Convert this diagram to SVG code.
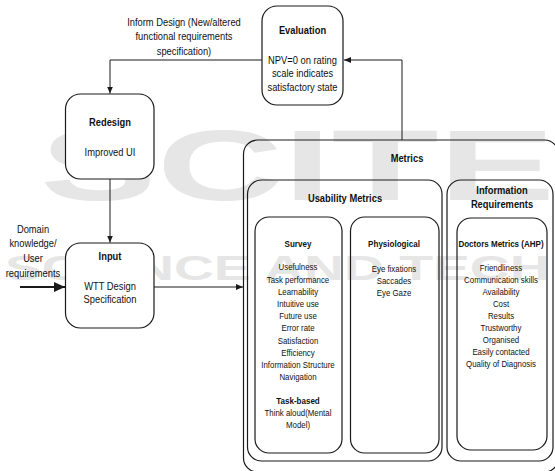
<svg xmlns="http://www.w3.org/2000/svg" width="555" height="471" viewBox="0 0 555 471">
<defs>
<style>
.box{fill:none;stroke:#1a1a1a;stroke-width:1.2}
.nbox{fill:#fff;stroke:#1a1a1a;stroke-width:1.2}
.ln{fill:none;stroke:#1a1a1a;stroke-width:1}
.t{font-family:"Liberation Sans",Arial,sans-serif;font-size:11.4px;text-anchor:middle;fill:#111}
.b{font-weight:bold}
.s{font-size:9.6px}
.sb{font-size:9.8px;font-weight:bold}
.wm{font-family:"Liberation Sans",Arial,sans-serif;font-weight:bold;fill:#e6e6e6}
</style>
<marker id="ah" markerWidth="8" markerHeight="6" refX="7" refY="3" orient="auto" markerUnits="userSpaceOnUse">
<path d="M0,0 L7,3 L0,6 Z" fill="#1a1a1a"/>
</marker>
<marker id="ahb" markerWidth="12" markerHeight="10" refX="11" refY="5" orient="auto" markerUnits="userSpaceOnUse">
<path d="M0,0 L11,5 L0,10 Z" fill="#1a1a1a"/>
</marker>
</defs>
<rect width="555" height="471" fill="#fff"/>
<g id="watermark">
<text class="wm" x="22.86" y="200" font-size="100" transform="scale(1.75,1)">SCITE</text>
<text class="wm" x="3.15" y="280" font-size="35" transform="scale(1.58,1)">SCIENCE AND TECH</text>
</g>
<g id="connectors">
<polyline class="ln" points="402,140 402,60 344,60" marker-end="url(#ah)"/>
<polyline class="ln" points="262,60 110,60 110,93.5" marker-end="url(#ah)"/>
<line class="ln" x1="110" y1="179" x2="110" y2="242.5" marker-end="url(#ah)"/>
<line class="ln" x1="154" y1="287" x2="243" y2="287" marker-end="url(#ah)"/>
<line x1="20" y1="287" x2="65" y2="287" stroke="#1a1a1a" stroke-width="2" marker-end="url(#ahb)"/>
<g class="t" transform="scale(0.82,1)">
<text x="224.39" y="26">Inform Design (New/altered</text>
<text x="224.39" y="40.5">functional requirements</text>
<text x="224.39" y="55">specification)</text>
<text x="40.24" y="233">Domain</text>
<text x="40.24" y="247.5">knowledge/</text>
<text x="40.24" y="262">User</text>
<text x="40.24" y="277">requirements</text>
</g>
</g>
<g id="evaluation">
<rect class="nbox" x="262" y="6" width="81" height="99" rx="15"/>
<g transform="scale(0.82,1)">
<text class="t b" x="368.9" y="34">Evaluation</text>
<text class="t" x="368.9" y="64">NPV=0 on rating</text>
<text class="t" x="368.9" y="77.5">scale indicates</text>
<text class="t" x="368.9" y="91">satisfactory state</text>
</g>
</g>
<g id="redesign">
<rect class="nbox" x="65.5" y="94" width="88.5" height="85" rx="15"/>
<g transform="scale(0.82,1)">
<text class="t b" x="134.15" y="126">Redesign</text>
<text class="t" x="134.15" y="156">Improved UI</text>
</g>
</g>
<g id="input">
<rect class="nbox" x="65.5" y="243" width="88.5" height="85" rx="15"/>
<g transform="scale(0.82,1)">
<text class="t b" x="134.15" y="260">Input</text>
<text class="t" x="134.15" y="290">WTT Design</text>
<text class="t" x="134.15" y="303">Specification</text>
</g>
</g>
<g id="metrics">
<rect class="box" x="243.5" y="140" width="315" height="332" rx="14"/>
<text class="t b" x="496.34" y="162" transform="scale(0.82,1)">Metrics</text>
</g>
<g id="usability-metrics">
<rect class="box" x="247.5" y="180" width="194.5" height="281" rx="14"/>
<text class="t b" x="420.73" y="202" transform="scale(0.82,1)">Usability Metrics</text>
</g>
<g id="information-requirements">
<rect class="box" x="447" y="180" width="106" height="281" rx="14"/>
<g transform="scale(0.82,1)">
<text class="t b" x="612.2" y="194">Information</text>
<text class="t b" x="612.2" y="208">Requirements</text>
</g>
</g>
<g id="survey">
<rect class="box" x="255" y="217" width="87" height="236" rx="14"/>
<g transform="scale(0.82,1)">
<text class="t sb" x="363.41" y="247.5">Survey</text>
<g class="t s">
<text x="363.41" y="270.5">Usefulness</text>
<text x="363.41" y="282.7">Task performance</text>
<text x="363.41" y="294.9">Learnability</text>
<text x="363.41" y="307.1">Intuitive use</text>
<text x="363.41" y="319.3">Future use</text>
<text x="363.41" y="331.5">Error rate</text>
<text x="363.41" y="343.7">Satisfaction</text>
<text x="363.41" y="355.9">Efficiency</text>
<text x="363.41" y="368.1">Information Structure</text>
<text x="363.41" y="380.3">Navigation</text>
<text x="363.41" y="416">Think aloud(Mental</text>
<text x="363.41" y="428">Model)</text>
</g>
<text class="t sb" x="363.41" y="404">Task-based</text>
</g>
</g>
<g id="physiological">
<rect class="box" x="350.5" y="217" width="88.5" height="236" rx="14"/>
<g transform="scale(0.82,1)">
<text class="t sb" x="480.49" y="247.5">Physiological</text>
<g class="t s">
<text x="480.49" y="272">Eye fixations</text>
<text x="480.49" y="284">Saccades</text>
<text x="480.49" y="296">Eye Gaze</text>
</g>
</g>
</g>
<g id="doctors-metrics">
<rect class="box" x="457" y="218" width="90" height="232" rx="14"/>
<g transform="scale(0.82,1)">
<text class="t sb" x="610.98" y="247.5">Doctors Metrics (AHP)</text>
<g class="t s">
<text x="610.98" y="271.5">Friendliness</text>
<text x="610.98" y="283.5">Communication skills</text>
<text x="610.98" y="295.5">Availability</text>
<text x="610.98" y="307.5">Cost</text>
<text x="610.98" y="319.5">Results</text>
<text x="610.98" y="331.5">Trustworthy</text>
<text x="610.98" y="343.5">Organised</text>
<text x="610.98" y="355.5">Easily contacted</text>
<text x="610.98" y="367.5">Quality of Diagnosis</text>
</g>
</g>
</g>
</svg>
